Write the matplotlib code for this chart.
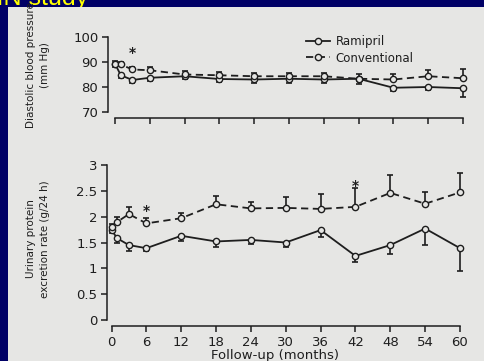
import matplotlib.pyplot as plt
from matplotlib.patches import Rectangle

# follow-up times (months)
months = [0, 1, 3, 6, 12, 18, 24, 30, 36, 42, 48, 54, 60]

# diastolic blood pressure (mm Hg)
dbp_ramipril = [89.3, 84.7, 82.8, 83.7, 84.3, 83.2, 83.0, 83.3, 83.0, 83.3, 79.7, 80.0, 79.5]
dbp_ramipril_err = [1.3, 1.0, 1.0, 1.2, 1.3, 1.2, 1.5, 1.5, 1.5, 2.0, 1.5, 1.2, 3.5]
dbp_conv = [89.3, 89.0, 87.0, 86.7, 85.0, 84.7, 84.3, 84.3, 84.3, 83.3, 83.0, 84.3, 83.5]
dbp_conv_err = [1.3, 1.0, 1.0, 1.3, 1.3, 1.3, 1.5, 1.5, 1.5, 1.8, 2.0, 2.5, 3.5]

# urinary protein excretion rate (g/24 h)
upe_ramipril = [1.74, 1.58, 1.45, 1.39, 1.63, 1.52, 1.55, 1.50, 1.74, 1.24, 1.45, 1.77, 1.39]
upe_ramipril_err = [0.05, 0.09, 0.12, 0.06, 0.11, 0.10, 0.08, 0.08, 0.14, 0.11, 0.17, 0.32, 0.45]
upe_conv = [1.80, 1.90, 2.05, 1.87, 1.97, 2.24, 2.16, 2.17, 2.15, 2.19, 2.46, 2.25, 2.47]
upe_conv_err = [0.05, 0.10, 0.14, 0.10, 0.11, 0.16, 0.12, 0.21, 0.28, 0.36, 0.34, 0.23, 0.38]

xticks = [0, 6, 12, 18, 24, 30, 36, 42, 48, 54, 60]

W, H = 484, 361
navy = '#000066'
paper = '#e6e6e4'
ink = '#1e1e1e'

fig = plt.figure(figsize=(W / 100, H / 100), dpi=100, facecolor=navy)

# yellow slide title, mostly hidden behind the scanned figure
fig.text(88 / W, 1 - 5 / H, 'REIN study', color='#ffff00', fontsize=18,
         family='Liberation Sans', ha='right', va='baseline', zorder=-2)
fig.patches.append(Rectangle((8 / W, 0), 1 - 8 / W, 1 - 7 / H, transform=fig.transFigure,
                             facecolor=paper, edgecolor='none', zorder=-1))

ax1 = fig.add_axes([115 / W, 1 - 112 / H, (463 - 115) / W, (112 - 37) / H])
ax2 = fig.add_axes([111.5 / W, 1 - 320 / H, (460 - 111.5) / W, (320 - 165) / H])

ramipril_style = dict(color=ink, lw=1.3, ls='-', marker='o', ms=4.5, mfc=paper,
                      mec=ink, mew=1.0, clip_on=False, zorder=3)
conv_style = dict(color=ink, lw=1.3, ls=(0, (4, 2.5)), marker='o', ms=4.5, mfc=paper,
                  mec=ink, mew=1.0, clip_on=False, zorder=3)


def draw_panel(ax, ram, ram_err, conv, conv_err):
    # Ramipril bars point down, conventional bars point up
    ax.errorbar(months, ram, yerr=[ram_err, [0] * len(ram)], fmt='none', ecolor=ink,
                elinewidth=1.2, capsize=2.5, capthick=1.2, clip_on=False, zorder=2)
    ax.errorbar(months, conv, yerr=[[0] * len(conv), conv_err], fmt='none', ecolor=ink,
                elinewidth=1.2, capsize=2.5, capthick=1.2, clip_on=False, zorder=2)
    l1, = ax.plot(months, ram, label='Ramipril', **ramipril_style)
    l2, = ax.plot(months, conv, label='Conventional', **conv_style)
    ax.set_facecolor('none')
    ax.set_xlim(0, 60)
    ax.set_xticks(xticks)
    for s in ['top', 'right']:
        ax.spines[s].set_visible(False)
    for s in ['left', 'bottom']:
        ax.spines[s].set_color(ink)
        ax.spines[s].set_linewidth(1.1)
    ax.tick_params(direction='out', length=4, width=1.1, color=ink, labelcolor=ink,
                   labelsize=9.5, pad=3)
    return l1, l2


l1, l2 = draw_panel(ax1, dbp_ramipril, dbp_ramipril_err, dbp_conv, dbp_conv_err)
ax1.set_ylim(70, 100)
ax1.set_yticks([70, 80, 90, 100])
ax1.set_xticklabels([])
ax1.spines['left'].set_position(('outward', 5))
ax1.spines['bottom'].set_position(('outward', 4.3))
ax1.text(3, 93.7, '*', ha='center', va='center', fontsize=10, fontweight='bold', color=ink)

draw_panel(ax2, upe_ramipril, upe_ramipril_err, upe_conv, upe_conv_err)
ax2.set_ylim(0, 3)
ax2.set_yticks([0, 0.5, 1, 1.5, 2, 2.5, 3])
ax2.set_yticklabels(['0', '0.5', '1', '1.5', '2', '2.5', '3'])
ax2.spines['left'].set_position(('outward', 3.2))
ax2.spines['bottom'].set_position(('outward', 4.3))
ax2.text(6, 2.11, '*', ha='center', va='center', fontsize=10, fontweight='bold', color=ink)
ax2.text(42, 2.6, '*', ha='center', va='center', fontsize=10, fontweight='bold', color=ink)

fig.legend(handles=[l1, l2], loc='upper left', bbox_to_anchor=(306 / W, 1 - 35 / H),
           frameon=False, fontsize=8.5, handlelength=2.0, handletextpad=0.5,
           labelspacing=0.3, borderpad=0, borderaxespad=0, labelcolor=ink)

fig.text(38 / W, 1 - 65 / H, 'Diastolic blood pressure\n(mm Hg)', rotation=90,
         ha='center', va='center', multialignment='center', fontsize=7.5,
         linespacing=1.5, color=ink)
fig.text(38 / W, 1 - 239 / H, 'Urinary protein\nexcretion rate (g/24 h)', rotation=90,
         ha='center', va='center', multialignment='center', fontsize=7.5,
         linespacing=1.5, color=ink)
fig.text(275 / W, 1 - 355 / H, 'Follow-up (months)', ha='center', va='center',
         fontsize=9.5, color=ink)

fig.savefig('out.png', dpi=100, facecolor=navy)
